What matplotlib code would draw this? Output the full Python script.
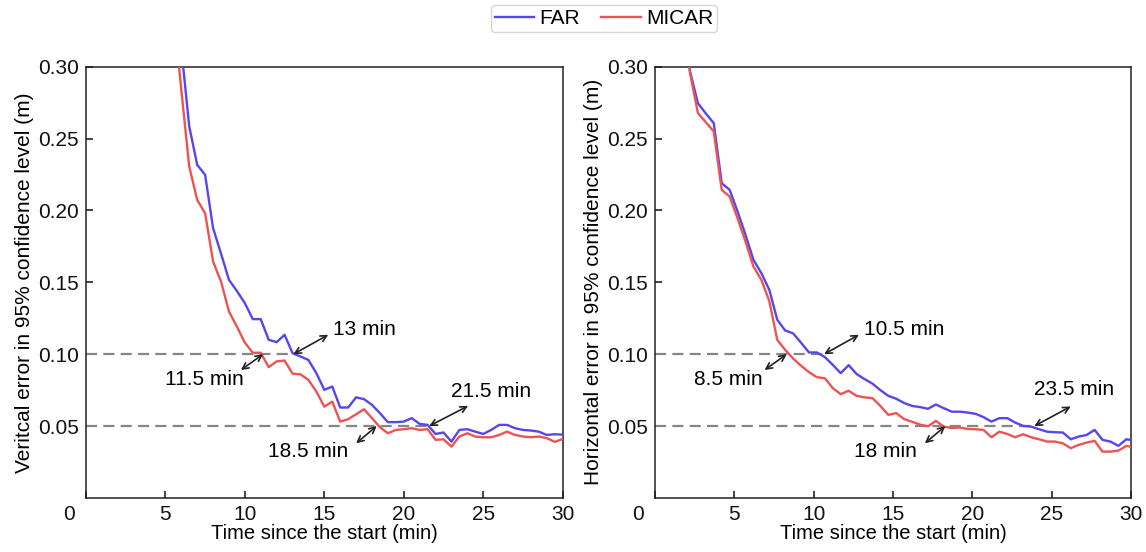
import numpy as np
import matplotlib
matplotlib.use("Agg")
import matplotlib.pyplot as plt
import matplotlib.transforms as mtransforms

plt.rcParams["font.family"] = ["Liberation Sans", "DejaVu Sans"]

# ---- data ----
t_vert = np.arange(5.5, 30.01, 0.5)
far_vert = [0.370, 0.313, 0.2585, 0.2318, 0.2248, 0.1877, 0.170, 0.1517, 0.144, 0.1355,
            0.1244, 0.1244, 0.110, 0.1084, 0.1135, 0.1007, 0.0984, 0.096, 0.0868, 0.0752,
            0.0775, 0.0629, 0.0629, 0.070, 0.0687, 0.0647, 0.059, 0.0527, 0.0527, 0.0531,
            0.0555, 0.0515, 0.0508, 0.0445, 0.0455, 0.0392, 0.0473, 0.0478, 0.0461, 0.0445,
            0.0473, 0.0508, 0.0508, 0.0485, 0.0473, 0.0469, 0.0461, 0.0438, 0.0443, 0.0440]
micar_vert = [0.340, 0.284, 0.2306, 0.2074, 0.198, 0.1645, 0.1506, 0.1297, 0.1192, 0.108,
              0.101, 0.101, 0.091, 0.095, 0.0956, 0.0865, 0.086, 0.0821, 0.074, 0.0635,
              0.067, 0.0531, 0.0548, 0.0582, 0.0617, 0.0555, 0.0492, 0.045, 0.0473, 0.0478,
              0.0485, 0.0473, 0.0478, 0.0404, 0.0408, 0.0357, 0.0427, 0.045, 0.0427, 0.0422,
              0.0422, 0.0438, 0.0461, 0.0438, 0.0427, 0.0422, 0.0427, 0.0416, 0.039, 0.041]

t_hor = np.arange(1.7, 30.25, 0.5)
far_hor = [0.360, 0.297, 0.2747, 0.2675, 0.2608, 0.219, 0.2144, 0.1993, 0.1831, 0.1657,
           0.1564, 0.1448, 0.124, 0.1165, 0.1145, 0.108, 0.1012, 0.1012, 0.098, 0.0926,
           0.0868, 0.0924, 0.0862, 0.0827, 0.0795, 0.075, 0.071, 0.069, 0.066, 0.064,
           0.0632, 0.062, 0.065, 0.0624, 0.060, 0.060, 0.0594, 0.0585, 0.0562, 0.0531,
           0.0555, 0.0555, 0.0524, 0.0501, 0.0496, 0.0478, 0.0461, 0.0457, 0.0455, 0.0408,
           0.0427, 0.0438, 0.0473, 0.0404, 0.0392, 0.0362, 0.0408, 0.040]
micar_hor = [0.350, 0.296, 0.2678, 0.2614, 0.255, 0.2144, 0.2097, 0.1946, 0.1784, 0.161,
             0.1517, 0.137, 0.110, 0.103, 0.097, 0.092, 0.0875, 0.084, 0.0833, 0.0764,
             0.0722, 0.0746, 0.071, 0.070, 0.0694, 0.064, 0.0578, 0.059, 0.0548, 0.053,
             0.051, 0.0498, 0.0536, 0.0496, 0.0486, 0.049, 0.048, 0.0478, 0.0473, 0.0422,
             0.0461, 0.0445, 0.0422, 0.0443, 0.0422, 0.0408, 0.0392, 0.0392, 0.038, 0.0346,
             0.0369, 0.0385, 0.0397, 0.0322, 0.0322, 0.0329, 0.0362, 0.035]

thresholds = [0.10, 0.05]
# (label, time where arrow starts, threshold)
marks_vert = [("13 min", 13.05, 0.10), ("11.5 min", 11.15, 0.10),
              ("21.5 min", 21.6, 0.05), ("18.5 min", 18.3, 0.05)]
marks_hor = [("10.5 min", 10.65, 0.10), ("8.5 min", 8.3, 0.10),
             ("23.5 min", 23.9, 0.05), ("18 min", 18.3, 0.05)]
far_ends_vert = [13.1, 21.6]
far_ends_hor = [10.6, 23.8]

ylabels = ["Veritcal error in 95% confidence level (m)",
           "Horizontal error in 95% confidence level (m)"]

# ---- styles / placement ----
c_far = "#5546ee"
c_micar = "#ee5353"
fs = 15
# arrow end offset (dx, dy) and text anchor/offset from arrow end, per panel
place_vert = [(2.2, 0.0135, "left", 0.3, 0.0035),
              (-1.4, -0.011, "right", 0.15, -0.0065),
              (2.45, 0.014, "left", -1.1, 0.010),
              (-1.3, -0.012, "right", -0.5, -0.0055)]
place_hor = [(2.2, 0.0135, "left", 0.3, 0.0035),
             (-1.4, -0.011, "right", -0.15, -0.0065),
             (2.3, 0.0136, "left", -2.3, 0.0115),
             (-1.3, -0.012, "right", -0.5, -0.0055)]

fig = plt.figure(figsize=(11.46, 5.52), dpi=100)
ax1 = fig.add_axes([0.075, 0.098, 0.416, 0.781])
ax2 = fig.add_axes([0.5716, 0.098, 0.4154, 0.781])

panels = [(ax1, t_vert, far_vert, micar_vert, marks_vert, far_ends_vert, place_vert, ylabels[0]),
          (ax2, t_hor, far_hor, micar_hor, marks_hor, far_ends_hor, place_hor, ylabels[1])]

for ax, t, far, mic, marks, ends, place, ylab in panels:
    ax.plot(t, far, color=c_far, lw=1.7, label="FAR", zorder=3)
    ax.plot(t, mic, color=c_micar, lw=1.7, label="MICAR", zorder=3)
    for thr, xe in zip(thresholds, ends):
        ax.plot([0, xe], [thr, thr], ls=(0, (5, 2.8)), color="#858585", lw=1.6, zorder=2)
    for (lab, x0, y0), (dx, dy, ha, tx, ty) in zip(marks, place):
        ax.annotate("", xy=(x0 + dx, y0 + dy), xytext=(x0, y0),
                    arrowprops=dict(arrowstyle="<->", color="#222222", lw=1.2,
                                    shrinkA=0, shrinkB=0, mutation_scale=11), zorder=4)
        ax.text(x0 + dx + tx, y0 + dy + ty, lab, ha=ha, va="center", fontsize=15)
    ax.set_xlim(0, 30)
    ax.set_ylim(0, 0.30)
    ax.set_xticks([0, 5, 10, 15, 20, 25, 30])
    ax.set_yticks([0.05, 0.10, 0.15, 0.20, 0.25, 0.30])
    ax.set_yticklabels(["0.05", "0.10", "0.15", "0.20", "0.25", "0.30"])
    ax.tick_params(direction="in", length=5, width=1.1, labelsize=fs, pad=5, colors="#111111")
    for sp in ax.spines.values():
        sp.set_linewidth(1.1)
        sp.set_color("#222222")
    ax.set_xlabel("Time since the start (min)", fontsize=14.5, labelpad=0)
    ax.set_ylabel(ylab, fontsize=15, labelpad=3)
    # the "0" label sits a little left of the axis corner
    lbl0 = ax.get_xticklabels()[0]
    lbl0.set_transform(lbl0.get_transform() +
                       mtransforms.ScaledTranslation(-12 / 72, 0, fig.dpi_scale_trans))

handles, labels = ax1.get_legend_handles_labels()
leg = fig.legend(handles, labels, loc="center", bbox_to_anchor=(0.527, 0.966), ncol=2,
                 fontsize=15, frameon=True, handlelength=1.9, columnspacing=1.0,
                 handletextpad=0.25, borderpad=0.2, borderaxespad=0, fancybox=True)
leg.get_frame().set_edgecolor("#cccccc")
leg.get_frame().set_linewidth(1.0)

fig.savefig("out.png", dpi=100)
